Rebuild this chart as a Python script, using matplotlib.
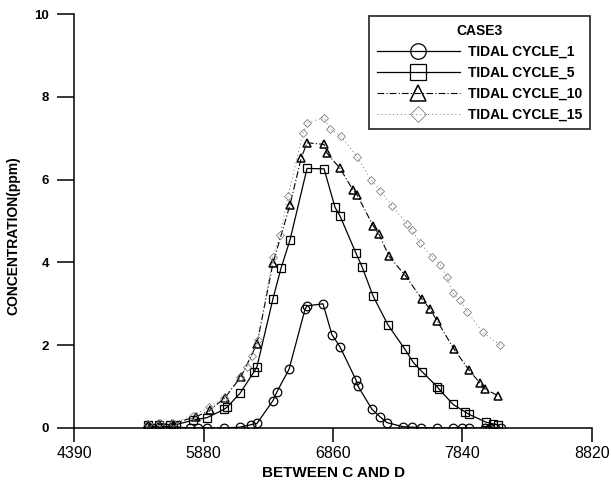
import matplotlib
matplotlib.use("Agg")
import matplotlib.pyplot as plt
import numpy as np

plt.rcParams["font.family"] = ["Liberation Sans", "DejaVu Sans"]

################################################################################
# Data                                           #
################################################################################
x_tick_pos = [4900, 5880, 6860, 7840, 8820]
x_tick_lab = ["4390", "5880", "6860", "7840", "8820"]
y_ticks = [0, 2, 4, 6, 8, 10]

x_c1 = [5460, 5543, 5649, 5778, 5838, 5907, 6035, 6157, 6240, 6285, 6406, 6437,
        6528, 6649, 6664, 6785, 6853, 6914, 7035, 7050, 7156, 7217, 7270, 7391,
        7459, 7527, 7649, 7770, 7838, 7891, 8012, 8050, 8088, 8133]
y_c1 = [0.03, 0.03, 0.03, 0.0, 0.0, 0.0, 0.0, 0.02, 0.08, 0.11, 0.66, 0.88,
        1.42, 2.87, 2.95, 3.0, 2.25, 1.96, 1.16, 1.01, 0.45, 0.27, 0.13, 0.03,
        0.02, 0.01, 0.0, 0.0, 0.0, 0.0, 0.0, 0.0, 0.0, 0.0]

x_c5 = [5460, 5543, 5626, 5672, 5801, 5907, 6035, 6058, 6157, 6263, 6285, 6406,
        6467, 6535, 6664, 6793, 6876, 6914, 7035, 7080, 7164, 7277, 7406, 7467,
        7535, 7649, 7664, 7770, 7861, 7891, 8020, 8073, 8111]
y_c5 = [0.07, 0.08, 0.08, 0.08, 0.19, 0.25, 0.45, 0.50, 0.84, 1.36, 1.48, 3.12,
        3.86, 4.54, 6.27, 6.26, 5.33, 5.12, 4.22, 3.90, 3.19, 2.49, 1.90, 1.59,
        1.36, 1.00, 0.94, 0.57, 0.39, 0.33, 0.14, 0.10, 0.07]

x_c10 = [5460, 5543, 5641, 5823, 5929, 6043, 6164, 6285, 6406, 6535, 6619, 6664,
         6793, 6815, 6914, 7012, 7043, 7164, 7209, 7285, 7406, 7535, 7596, 7649,
         7778, 7891, 7975, 8012, 8111]
y_c10 = [0.08, 0.10, 0.10, 0.27, 0.43, 0.73, 1.24, 2.03, 3.98, 5.39, 6.51, 6.89,
         6.85, 6.64, 6.27, 5.75, 5.63, 4.89, 4.68, 4.15, 3.69, 3.11, 2.87, 2.59,
         1.90, 1.40, 1.08, 0.94, 0.78]

x_c15 = [5460, 5550, 5649, 5801, 5922, 6035, 6157, 6209, 6247, 6293, 6406, 6459,
         6520, 6633, 6664, 6793, 6838, 6921, 7043, 7149, 7217, 7308, 7421, 7459,
         7520, 7611, 7671, 7724, 7770, 7823, 7876, 7997, 8126]
y_c15 = [0.10, 0.12, 0.12, 0.30, 0.50, 0.72, 1.24, 1.48, 1.74, 2.13, 4.14, 4.66,
         5.60, 7.12, 7.37, 7.50, 7.22, 7.05, 6.55, 6.00, 5.73, 5.37, 4.93, 4.78,
         4.46, 4.14, 3.94, 3.65, 3.25, 3.09, 2.81, 2.31, 2.00]

################################################################################
# Figure                                                                       #
################################################################################
fig = plt.figure(figsize=(6.11, 4.83), dpi=100)
ax = fig.add_axes([0.1213, 0.1139, 0.8471, 0.8571])

ax.plot(x_c1, y_c1, "-", color="black", lw=0.9, marker="o", ms=6.2,
        mfc="none", mec="black", mew=0.9, label="TIDAL CYCLE_1")
ax.plot(x_c5, y_c5, "-", color="black", lw=0.9, marker="s", ms=6.2,
        mfc="none", mec="black", mew=0.9, label="TIDAL CYCLE_5")
ax.plot(x_c10, y_c10, color="black", lw=0.8, ls=(0, (6, 2, 1, 2)), marker="^",
        ms=6.2, mfc="none", mec="black", mew=1.1, label="TIDAL CYCLE_10")
ax.plot(x_c15, y_c15, color="0.45", lw=0.7, ls=(0, (1, 3)), marker="D", ms=4.5,
        mfc="none", mec="0.5", mew=0.6, label="TIDAL CYCLE_15")

ax.set_xlim(4900, 8820)
ax.set_ylim(0, 10)
ax.set_xticks(x_tick_pos)
ax.set_xticklabels(x_tick_lab)
ax.set_yticks(y_ticks)

for s in ["top", "right"]:
    ax.spines[s].set_visible(False)
for s in ["left", "bottom"]:
    ax.spines[s].set_linewidth(1.1)
ax.tick_params(axis="y", direction="out", length=12, width=1.1, pad=6,
               labelsize=9.5)
ax.tick_params(axis="x", direction="out", length=10, width=1.1, pad=3,
               labelsize=11.5)
for lab in ax.get_yticklabels():
    lab.set_fontweight("bold")

ax.set_xlabel("BETWEEN C AND D", fontsize=11, fontweight="bold")
ax.set_ylabel("CONCENTRATION(ppm)", fontsize=10, fontweight="bold")
ax.xaxis.set_label_coords(0.502, -0.092)
ax.yaxis.set_label_coords(-0.104, 0.464)

leg = ax.legend(loc="upper right", bbox_to_anchor=(0.997, 0.995),
                title="CASE3", fancybox=False, frameon=True,
                handlelength=6.0, markerscale=1.8, borderpad=0.55,
                labelspacing=0.5, handletextpad=0.6, borderaxespad=0,
                prop={"size": 10, "weight": "bold"},
                title_fontproperties={"size": 10, "weight": "bold"})
leg.get_frame().set_edgecolor("black")
leg.get_frame().set_linewidth(1.3)

fig.savefig("out.png", dpi=100)
plt.close()
